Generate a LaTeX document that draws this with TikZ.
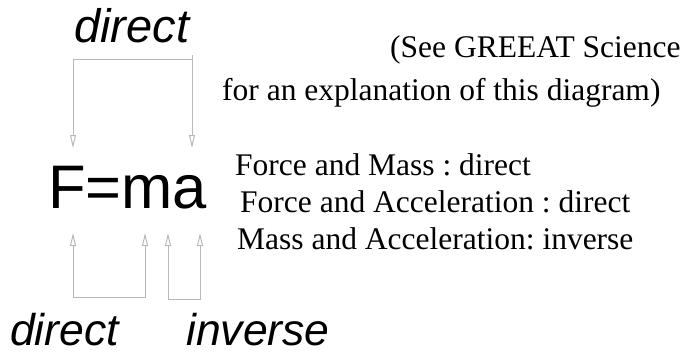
\documentclass[tikz,border=0pt]{standalone}
\usepackage{fontspec}
\setmainfont{Liberation Serif}
\newfontfamily\helv{Liberation Sans}
\usetikzlibrary{arrows.meta}
\definecolor{linegray}{RGB}{185,185,185}
\frenchspacing
\tikzset{
  conn/.style={draw=linegray, line width=1pt, -{Triangle[open,length=13pt,width=6pt]}},
  connb/.style={draw=linegray, line width=1pt, {Triangle[open,length=13pt,width=6pt]}-{Triangle[open,length=13pt,width=6pt]}},
  lab/.style={inner sep=0pt, anchor=base west, font=\helv\itshape\fontsize{47}{50}\selectfont},
  labs/.style={inner sep=0pt, anchor=base west, font=\helv\itshape\fontsize{44.5}{48}\selectfont},
  eqn/.style={inner sep=0pt, anchor=base west, font=\helv\fontsize{61.5}{70}\selectfont},
  note/.style={inner sep=0pt, anchor=base west, font=\frenchspacing\fontsize{31.5}{36}\selectfont}
}
\begin{document}
\begin{tikzpicture}[x=1pt,y=-1pt]
\useasboundingbox (0,0) rectangle (682,354);
% labels
\node[lab] (topdirect) at (74,42) {direct};
\node[labs] (botdirect) at (10,345) {direct};
\node[labs] (botinverse) at (186,345) {inverse};
% equation
\node[eqn] (eq) at (48,208) {F=ma};
% notes
\node[note] (n1) at (390,57) {(See GREEAT Science};
\node[note] (n2) at (222,100) {for an explanation of this diagram)};
\node[note] (r1) at (235,175) {Force and Mass : direct};
\node[note] (r2) at (240,212) {Force and Acceleration : direct};
\node[note] (r3) at (237,249) {Mass and Acceleration: inverse};
% coordinates of arrow ends
\coordinate (tF) at (73,148);
\coordinate (tA) at (192,148);
\coordinate (tcL) at (73,59);
\coordinate (tcR) at (192,59);
\coordinate (tAs) at (192,55);
\coordinate (bF) at (73,233);
\coordinate (bM1) at (145,233);
\coordinate (bM2) at (168,233);
\coordinate (bA) at (200,233);
\coordinate (bcF) at (73,297);
\coordinate (bcM1) at (145,297);
\coordinate (bcM2) at (168,299);
\coordinate (bcA) at (200,299);
% top bracket
\draw[conn] (tcR) -- (tcL) -- (tF);
\draw[conn] (tAs) -- (tA);
% bottom brackets
\draw[connb] (bF) -- (bcF) -- (bcM1) -- (bM1);
\draw[connb] (bM2) -- (bcM2) -- (bcA) -- (bA);
\end{tikzpicture}
\end{document}
